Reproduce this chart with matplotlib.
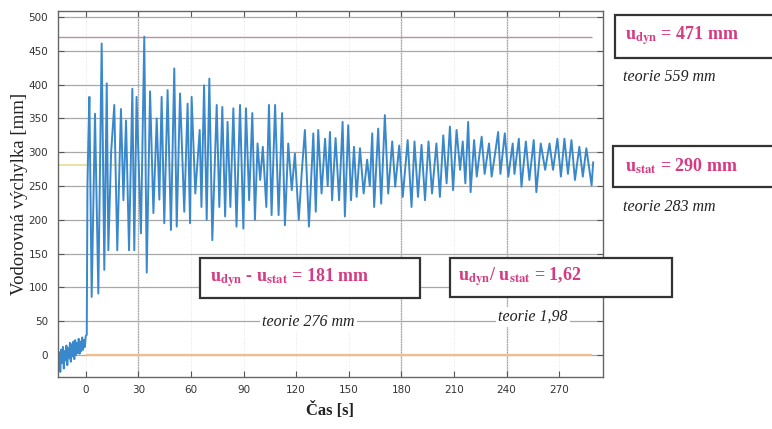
# Horizontal displacement record with the u_dyn / u_stat annotations

import matplotlib
matplotlib.use("Agg")
import matplotlib.pyplot as plt
from matplotlib.patches import Rectangle

plt.rcParams['mathtext.fontset'] = 'stix'

t_pre = [-15.5, -15.0, -14.5, -14.0, -13.5, -13.0, -12.5, -12.0, -11.5, -11.0,
         -10.5, -10.0, -9.5, -9.0, -8.5, -8.0, -7.5, -7.0, -6.5, -6.0,
         -5.5, -5.0, -4.5, -4.0, -3.5, -3.0, -2.5, -2.0, -1.5, -1.0, -0.5, 0.0]
u_pre = [-18, 4, -25, 8, -12, 12, -20, 6, -8, 14, -15, 10, -5, 18, -10, 16,
         -2, 20, -6, 22, 0, 18, 3, 24, 2, 20, 6, 26, 8, 22, 12, 28]

t_main = [0.6, 1.0, 1.5, 2.1, 3.4, 5.3, 7.2, 9.1, 10.6, 12.0, 12.9, 14.5, 16.3, 18.0,
          20.1, 21.5, 23.0, 24.7, 26.6, 27.7, 29.0, 31.5, 33.4, 34.8, 36.7, 38.6,
          40.5, 42.0, 43.3, 44.8, 46.7, 48.6, 50.5, 51.9, 53.8, 56.2, 58.1, 59.5,
          60.4, 62.5, 65.0, 66.0, 67.5, 69.0, 70.5, 72.2, 74.7, 76.2, 77.9, 79.5,
          80.9, 82.5, 84.2, 86.0, 88.0, 89.9, 91.4, 93.2, 95.0, 96.5, 98.0, 99.5,
          101.0, 103.0, 104.5, 106.0, 108.0, 110.0, 112.0, 113.6, 115.5, 117.5,
          119.3, 121.5, 123.2, 125.0, 127.3, 129.8, 131.2, 132.6, 134.5, 136.5,
          138.0, 139.3, 140.5, 142.5, 144.5, 146.5, 147.8, 149.7, 151.3, 153.0,
          154.5, 156.4, 158.5, 160.5, 162.0, 163.4, 164.5, 166.8, 168.5, 170.6,
          172.5, 174.8, 176.5, 178.8, 180.8, 183.6, 185.8, 187.5, 189.5, 191.5,
          193.5, 195.5, 197.5, 200.0, 202.0, 203.9, 205.8, 207.7, 209.5, 211.5,
          213.5, 215.0, 216.5, 218.1, 219.5, 221.5, 223.0, 225.8, 227.5, 230.0,
          231.5, 233.0, 235.2, 236.5, 239.0, 241.0, 243.5, 244.5, 247.0, 248.5,
          251.0, 253.0, 255.5, 257.0, 259.5, 262.0, 264.5, 266.5, 269.0, 271.0,
          273.0, 275.0, 277.0, 279.0, 281.5, 283.5, 285.5, 288.5, 289.4]
u_main = [30, 250, 318, 382, 86, 357, 91, 461, 126, 402, 155, 300, 370, 155,
          364, 229, 347, 155, 394, 155, 382, 180, 471, 122, 390, 210,
          350, 230, 382, 195, 392, 185, 424, 190, 387, 212, 372, 195,
          382, 239, 333, 219, 399, 200, 409, 170, 370, 219, 367, 205,
          345, 219, 365, 190, 370, 187, 365, 229, 358, 200, 313, 259,
          308, 219, 370, 207, 370, 207, 358, 192, 313, 244,
          298, 200, 270, 333, 190, 328, 212, 333, 239, 320,
          250, 330, 229, 321, 229, 345, 205, 340, 229, 308,
          234, 306, 239, 289, 250, 328, 219, 335, 224, 355,
          239, 316, 249, 310, 234, 318, 219, 316, 234, 311,
          229, 316, 239, 313, 234, 325, 254, 338, 244, 333,
          274, 316, 254, 345, 241, 318, 264, 323, 268, 313,
          264, 290, 330, 268, 328, 264, 313, 268, 320, 249,
          316, 259, 318, 241, 313, 274, 313, 274, 320, 264,
          320, 268, 318, 259, 308, 264, 306, 251, 285]

u_dyn = 471
u_stat = 281
t_end = 289

xticks = [0, 30, 60, 90, 120, 150, 180, 210, 240, 270]
yticks = [0, 50, 100, 150, 200, 250, 300, 350, 400, 450, 500]

W, H = 772, 429
fig = plt.figure(figsize=(W / 100, H / 100), dpi=100)
ax = fig.add_axes([58 / W, 1 - 377 / H, (603 - 58) / W, (377 - 11) / H])

ax.set_xlim(-15.8, 295)
ax.set_ylim(-32.5, 509)
ax.set_xticks(xticks)
ax.set_yticks(yticks)
ax.tick_params(direction='in', top=True, right=True, labelsize=7.5,
               colors='#555555', labelcolor='#333333', length=4)
ax.tick_params(axis='y', pad=7)
ax.tick_params(axis='x', pad=6)
for s in ax.spines.values():
    s.set_color('#666666')
    s.set_linewidth(1.0)

ax.grid(axis='y', color='#a8a8a8', lw=0.9)
ax.grid(axis='x', color='#e6e6e6', lw=0.7, ls=':')
for xv in [30, 180, 240]:
    ax.axvline(xv, color='#a0a0a0', lw=0.9, zorder=0.5)
ax.set_axisbelow(True)

ax.hlines(u_dyn, -15.8, t_end, color='#c08aa8', lw=1.0, zorder=1)
ax.hlines(u_stat, -15.8, t_end, color='#e6dc9a', lw=1.2, zorder=1)
ax.hlines(0, 0, t_end, color='#f2bb8e', lw=1.6, zorder=1)

ax.plot(t_pre + t_main, u_pre + u_main, color='#3a88cc', lw=1.4, zorder=2)

ax.set_ylabel('Vodorovná výchylka [mm]', family='Liberation Serif',
              fontsize=13.5, color='#222222', labelpad=0.5)
ax.set_xlabel('Čas [s]', family='Liberation Serif', fontsize=12,
              weight='bold', color='#222222', labelpad=5)


def box(x0, y0, x1, y1):
    fig.add_artist(Rectangle((x0 / W, 1 - y1 / H), (x1 - x0) / W, (y1 - y0) / H,
                             transform=fig.transFigure, facecolor='white',
                             edgecolor='#333333', lw=1.6, zorder=5))


def pink(x, y, s):
    fig.text(x / W, 1 - y / H, s, family='Liberation Serif', weight='bold',
             fontsize=13, color='#d63a82', va='center', ha='left', zorder=6)


def teorie(x, y, s):
    fig.text(x / W, 1 - y / H, s, family='Liberation Serif', style='italic',
             fontsize=11.5, color='#222222', va='center', ha='left', zorder=6,
             bbox=dict(facecolor='white', edgecolor='none', pad=1.5))


box(615, 15, 790, 58)
pink(625, 36, r'u$_{\mathbf{dyn}}$ = 471 mm')
teorie(623, 77, 'teorie 559 mm')

box(613, 146, 790, 187)
pink(625, 166, r'u$_{\mathbf{stat}}$ = 290 mm')
teorie(623, 207, 'teorie 283 mm')

box(200, 258, 420, 298)
pink(210, 278, r'u$_{\mathbf{dyn}}$ - u$_{\mathbf{stat}}$ = 181 mm')
teorie(262, 322, 'teorie 276 mm')

box(450, 258, 672, 297)
pink(458, 277, r'u$_{\mathbf{dyn}}$/ u$_{\mathbf{stat}}$ = 1,62')
teorie(498, 317, 'teorie 1,98')

fig.savefig('out.png', dpi=100)
